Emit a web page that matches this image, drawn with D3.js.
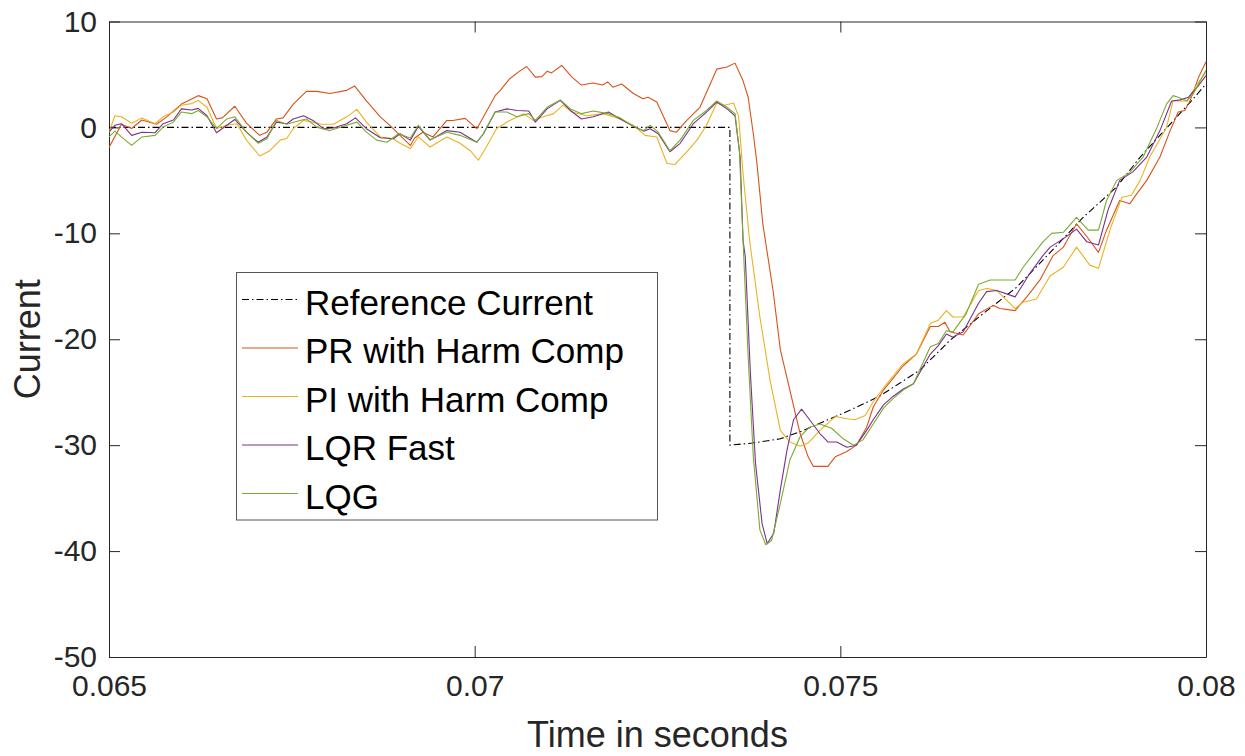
<!DOCTYPE html>
<html>
<head>
<meta charset="utf-8">
<script src="https://cdn.jsdelivr.net/npm/d3@7"></script>
<style>
  html, body { margin: 0; padding: 0; background: #fff; }
  svg { display: block; }
  text { font-family: "Liberation Sans", Arial, Helvetica, sans-serif; fill: #262626; }
</style>
</head>
<body>
<svg id="chart" width="1245" height="756"></svg>
<script>
// ---- data (time in milliseconds, current) ----
const seriesNames = ["Reference Current", "PR with Harm Comp", "PI with Harm Comp", "LQR Fast", "LQG"];
const seriesColors = ["#000000", "#D95319", "#EDB120", "#7E2F8E", "#77AC30"];

const xTickValues = [0.065, 0.07, 0.075, 0.08];
const xTickLabels = ["0.065", "0.07", "0.075", "0.08"];
const yTickValues = [-50, -40, -30, -20, -10, 0, 10];
const yTickLabels = ["-50", "-40", "-30", "-20", "-10", "0", "10"];

const refData = [
  [65.00, 0], [73.49, 0], [73.49, -30], [73.80, -29.8], [74.18, -29.4], [74.50, -28.6],
  [74.83, -27.6], [75.13, -26.7], [75.53, -25.4], [75.80, -24.2], [76.09, -22.9], [76.50, -20.1],
  [76.95, -17.6], [77.41, -15.1], [77.87, -11.8], [78.32, -8.5], [78.78, -5.6], [79.10, -2.8],
  [79.35, -0.9], [79.60, 1.0], [79.80, 2.5], [80.00, 4.1]
];

const prData = [
  [65.00, -1.9], [65.17, 0.3], [65.31, -0.1], [65.45, 0.7], [65.65, 0.3], [65.79, 1.0], [65.99, 2.2],
  [66.22, 3.0], [66.34, 2.7], [66.47, 0.8], [66.55, 0.9], [66.72, 2.0], [66.88, 0.4], [67.06, -0.75],
  [67.16, -0.45], [67.29, 0.8], [67.38, 0.9], [67.52, 2.2], [67.70, 3.4], [67.84, 3.4], [68.02, 3.2],
  [68.25, 3.5], [68.36, 3.9], [68.52, 2.5], [68.71, 1.0], [68.84, 0.2], [68.98, -0.75], [69.12, -1.7],
  [69.18, -1.0], [69.29, -0.45], [69.43, -0.9], [69.62, 0.66], [69.70, 0.66], [69.87, 0.85],
  [70.03, -0.12], [70.28, 3.0], [70.35, 3.5], [70.48, 4.6], [70.59, 5.2], [70.71, 5.75], [70.83, 4.75],
  [70.92, 4.8], [70.99, 5.3], [71.05, 5.15], [71.19, 5.85], [71.33, 4.75], [71.46, 4.0], [71.62, 4.2],
  [71.75, 4.0], [71.82, 4.3], [71.89, 3.8], [72.01, 4.1], [72.17, 3.2], [72.30, 2.7], [72.37, 2.85],
  [72.49, 2.4], [72.67, -0.3], [72.76, -0.45], [72.90, 0.66], [73.08, 1.9], [73.17, 3.3], [73.31, 5.5],
  [73.45, 5.7], [73.56, 6.07], [73.67, 4.4], [73.74, 2.85], [73.81, -0.6], [73.86, -3.4], [73.94, -9.1],
  [74.08, -15.4], [74.18, -21.0], [74.31, -24.8], [74.45, -28.9], [74.56, -31.1], [74.63, -32.0],
  [74.83, -32.0], [74.93, -31.1], [75.09, -30.6], [75.22, -30.0], [75.36, -28.3], [75.45, -26.4],
  [75.59, -24.8], [75.86, -22.5], [76.04, -21.4], [76.23, -18.8], [76.34, -18.8], [76.43, -18.4],
  [76.50, -19.3], [76.68, -19.6], [76.89, -17.6], [77.09, -16.8], [77.18, -17.1], [77.39, -17.3],
  [77.55, -16.0], [77.73, -14.4], [77.91, -12.1], [78.05, -11.3], [78.23, -9.1], [78.37, -10.3],
  [78.53, -11.8], [78.64, -9.7], [78.82, -6.9], [78.96, -7.2], [79.05, -6.3], [79.19, -5.0],
  [79.37, -2.8], [79.51, -0.3], [79.62, 1.45], [79.71, 1.6], [79.78, 2.5], [79.90, 4.75], [80.00, 6.2]
];

const piData = [
  [65.00, -0.5], [65.08, 1.1], [65.17, 1.0], [65.31, 0.4], [65.45, 0.9], [65.63, 0.35], [65.74, 1.0],
  [65.88, 1.45], [65.99, 2.1], [66.13, 2.25], [66.22, 2.55], [66.34, 1.9], [66.47, -0.1], [66.61, 0.2],
  [66.75, 0.35], [66.88, -1.2], [67.06, -2.7], [67.20, -2.2], [67.34, -1.2], [67.43, -1.05], [67.52, -0.1],
  [67.66, 0.66], [67.79, 0.5], [67.89, 0.3], [68.07, 0.3], [68.25, 1.0], [68.39, 1.7], [68.52, 0.5],
  [68.71, -0.9], [68.88, -1.05], [68.98, -1.5], [69.12, -2.0], [69.23, -0.9], [69.39, -1.85],
  [69.62, -0.9], [69.80, -1.5], [69.94, -2.2], [70.05, -3.1], [70.16, -1.85], [70.30, -0.1], [70.48, 0.66],
  [70.67, 1.3], [70.80, 0.66], [70.94, 1.0], [71.08, 1.3], [71.21, 2.1], [71.33, 1.45], [71.53, 1.1],
  [71.76, 1.3], [71.99, 0.8], [72.17, 0.2], [72.33, -0.75], [72.49, -0.9], [72.63, -3.4], [72.74, -3.5],
  [72.90, -2.3], [73.04, -1.2], [73.17, 0.2], [73.31, 2.3], [73.42, 2.1], [73.54, 2.3], [73.61, 1.0],
  [73.67, -4.4], [73.76, -10.7], [73.90, -17.9], [74.04, -23.9], [74.18, -28.6], [74.31, -29.7],
  [74.45, -30.1], [74.56, -29.8], [74.72, -28.6], [74.93, -27.3], [75.09, -27.5], [75.20, -27.6],
  [75.34, -27.2], [75.45, -25.9], [75.59, -24.6], [75.72, -23.5], [75.86, -22.3], [76.04, -21.4],
  [76.23, -18.5], [76.34, -18.2], [76.45, -17.3], [76.54, -17.9], [76.68, -17.9], [76.89, -15.4],
  [77.00, -15.2], [77.14, -15.4], [77.39, -17.1], [77.50, -16.5], [77.68, -16.2], [77.87, -14.0],
  [78.05, -13.2], [78.23, -11.3], [78.41, -13.0], [78.53, -13.3], [78.69, -9.6], [78.85, -6.6],
  [78.98, -6.4], [79.10, -5.0], [79.23, -2.8], [79.46, 0.0], [79.55, 2.5], [79.74, 2.5], [79.88, 4.1],
  [80.00, 5.2]
];

const lqrData = [
  [65.00, -0.45], [65.08, 0.2], [65.17, 0.35], [65.31, -0.75], [65.45, -0.45], [65.63, -0.5], [65.74, 0.35],
  [65.88, 0.7], [65.99, 1.75], [66.13, 1.65], [66.22, 1.8], [66.34, 1.1], [66.47, -0.5], [66.61, 0.2],
  [66.72, 0.75], [66.88, -0.45], [67.04, -1.4], [67.16, -0.9], [67.29, 0.5], [67.43, 0.35], [67.52, 0.8],
  [67.66, 1.1], [67.79, 0.66], [67.93, -0.12], [68.07, -0.06], [68.25, 0.35], [68.37, 0.9], [68.52, -0.12],
  [68.71, -0.97], [68.89, -1.07], [68.98, -0.6], [69.12, -1.2], [69.23, 0.1], [69.39, -1.2], [69.62, -0.3],
  [69.80, -0.45], [70.03, -1.4], [70.12, -0.6], [70.28, 1.45], [70.44, 1.75], [70.58, 1.6], [70.74, 1.55],
  [70.83, 0.5], [70.99, 1.75], [71.17, 2.55], [71.31, 1.6], [71.46, 0.8], [71.62, 1.0], [71.83, 1.45],
  [71.99, 0.8], [72.17, 0.1], [72.31, -0.35], [72.40, -0.12], [72.51, -0.6], [72.67, -2.3], [72.81, -1.5],
  [72.99, 0.35], [73.17, 1.45], [73.31, 2.4], [73.45, 1.75], [73.56, 1.1], [73.63, -2.8], [73.67, -10.7],
  [73.70, -12.2], [73.77, -23.2], [73.84, -31.7], [73.93, -37.4], [74.00, -39.3], [74.09, -38.3],
  [74.18, -34.2], [74.27, -30.5], [74.36, -27.6], [74.47, -26.6], [74.58, -27.6], [74.72, -28.9],
  [74.83, -29.7], [74.95, -29.7], [75.09, -30.2], [75.22, -30.0], [75.36, -28.6], [75.45, -27.6],
  [75.59, -26.2], [75.72, -25.4], [75.86, -24.7], [76.00, -24.2], [76.23, -21.4], [76.34, -20.6],
  [76.45, -19.5], [76.54, -19.8], [76.68, -19.3], [76.89, -16.6], [77.00, -15.5], [77.14, -15.4],
  [77.39, -16.0], [77.59, -13.8], [77.77, -12.1], [77.87, -11.3], [78.05, -10.5], [78.23, -9.6],
  [78.37, -10.8], [78.53, -11.1], [78.66, -7.8], [78.82, -5.0], [79.00, -4.2], [79.19, -2.8],
  [79.37, -0.3], [79.53, 2.5], [79.65, 2.6], [79.76, 2.85], [79.88, 3.8], [80.00, 4.9]
];

const lqgData = [
  [65.00, -0.9], [65.08, -0.35], [65.17, -0.9], [65.31, -1.7], [65.45, -0.9], [65.63, -0.75], [65.74, 0.03],
  [65.88, 0.5], [65.99, 1.45], [66.13, 1.3], [66.22, 1.6], [66.34, 1.0], [66.47, -0.12], [66.61, 0.8],
  [66.72, 1.0], [66.88, -0.45], [67.04, -1.5], [67.16, -1.07], [67.29, 0.66], [67.43, 0.3], [67.61, 0.66],
  [67.70, 0.8], [67.84, 0.03], [68.02, -0.3], [68.25, 0.2], [68.39, 0.5], [68.52, -0.45], [68.66, -1.2],
  [68.80, -1.4], [68.96, -0.6], [69.12, -1.0], [69.23, 0.2], [69.39, -1.17], [69.62, -0.45], [69.80, -0.75],
  [70.03, -1.4], [70.12, -0.6], [70.28, 1.45], [70.44, 1.45], [70.58, 1.0], [70.74, 1.3], [70.83, 0.66],
  [70.99, 1.9], [71.17, 2.6], [71.31, 1.75], [71.46, 1.3], [71.62, 1.55], [71.83, 1.3], [71.99, 0.9],
  [72.17, 0.1], [72.31, -0.3], [72.40, 0.2], [72.51, -0.45], [72.67, -2.2], [72.81, -1.2], [72.99, 0.66],
  [73.17, 1.6], [73.31, 2.5], [73.45, 1.9], [73.56, 1.3], [73.62, -2.2], [73.67, -10.7], [73.74, -21.7],
  [73.81, -31.1], [73.90, -38.0], [73.98, -39.4], [74.06, -39.0], [74.18, -35.5], [74.31, -31.4],
  [74.45, -29.2], [74.58, -28.3], [74.72, -28.0], [74.88, -28.4], [75.04, -29.4], [75.18, -30.0],
  [75.31, -29.5], [75.45, -28.0], [75.59, -26.5], [75.72, -25.6], [75.86, -24.8], [76.00, -24.2],
  [76.23, -20.7], [76.34, -20.4], [76.45, -19.2], [76.54, -19.3], [76.72, -17.6], [76.89, -14.8],
  [77.05, -14.4], [77.39, -14.4], [77.50, -13.2], [77.77, -10.8], [77.89, -10.0], [78.05, -9.9],
  [78.23, -8.5], [78.39, -9.7], [78.53, -9.7], [78.64, -6.9], [78.78, -5.0], [78.95, -4.3], [79.14, -2.8],
  [79.33, 0.0], [79.46, 2.2], [79.55, 3.0], [79.62, 2.85], [79.74, 2.5], [79.83, 3.2], [79.92, 4.4],
  [80.00, 5.4]
];

const allSeries = [refData, prData, piData, lqrData, lqgData];
const MS = 1e-3;

// ---- layout ----
const svg = d3.select("#chart");
const plot = { left: 109, right: 1206, top: 21.5, bottom: 657 };

const x = d3.scaleLinear().domain([0.065, 0.08]).range([plot.left, plot.right]);
const y = d3.scaleLinear().domain([-50, 10]).range([plot.bottom, plot.top]);

svg.append("defs").append("clipPath").attr("id", "clip")
  .append("rect").attr("x", plot.left).attr("y", plot.top)
  .attr("width", plot.right - plot.left).attr("height", plot.bottom - plot.top);

const axisColor = "#262626";
const tickLen = 11;

// axes with inward ticks
const gBottom = svg.append("g").attr("transform", `translate(0,${plot.bottom})`)
  .call(d3.axisBottom(x).tickValues(xTickValues).tickSizeInner(-tickLen).tickSizeOuter(0)
    .tickPadding(22).tickFormat((d, i) => xTickLabels[i]));
const gTop = svg.append("g").attr("transform", `translate(0,${plot.top})`)
  .call(d3.axisTop(x).tickValues(xTickValues).tickSizeInner(-tickLen).tickSizeOuter(0).tickFormat(""));
const gLeft = svg.append("g").attr("transform", `translate(${plot.left},0)`)
  .call(d3.axisLeft(y).tickValues(yTickValues).tickSizeInner(-tickLen).tickSizeOuter(0)
    .tickPadding(12).tickFormat((d, i) => yTickLabels[i]));
const gRight = svg.append("g").attr("transform", `translate(${plot.right},0)`)
  .call(d3.axisRight(y).tickValues(yTickValues).tickSizeInner(-tickLen).tickSizeOuter(0).tickFormat(""));

[gBottom, gTop, gLeft, gRight].forEach(g => {
  g.select(".domain").attr("stroke", axisColor).attr("stroke-width", 1);
  g.selectAll(".tick line").attr("stroke", axisColor).attr("stroke-width", 1);
  g.selectAll(".tick text").attr("fill", axisColor).style("font-size", "30px")
    .style("font-family", '"Liberation Sans", Arial, sans-serif');
});
gBottom.selectAll(".tick text").attr("dy", "0.55em");

// axis titles
svg.append("text").attr("x", (plot.left + plot.right) / 2).attr("y", 747)
  .attr("text-anchor", "middle").style("font-size", "36px").text("Time in seconds");
svg.append("text").attr("transform", `translate(40,${(plot.top + plot.bottom) / 2}) rotate(-90)`)
  .attr("text-anchor", "middle").style("font-size", "36px").text("Current");

// lines
const line = d3.line().x(d => x(d[0] * MS)).y(d => y(d[1]));
const gLines = svg.append("g").attr("clip-path", "url(#clip)");
allSeries.forEach((data, i) => {
  const p = gLines.append("path").datum(data)
    .attr("fill", "none").attr("stroke", seriesColors[i])
    .attr("stroke-width", 1.1).attr("stroke-linejoin", "round").attr("d", line);
  if (i === 0) p.attr("stroke-dasharray", "7,3,1.5,3");
});

// legend
const leg = { x: 236.5, y: 272.5, w: 421, h: 247.5 };
const gLeg = svg.append("g");
gLeg.append("rect").attr("x", leg.x).attr("y", leg.y).attr("width", leg.w).attr("height", leg.h)
  .attr("fill", "#fff").attr("stroke", "#555").attr("stroke-width", 1);
seriesNames.forEach((name, i) => {
  const cy = 299.5 + i * 48.5;
  const l = gLeg.append("line").attr("x1", 242).attr("x2", 298).attr("y1", cy).attr("y2", cy)
    .attr("stroke", seriesColors[i]).attr("stroke-width", 1.1);
  if (i === 0) l.attr("stroke-dasharray", "7,3,1.5,3");
  gLeg.append("text").attr("x", 305).attr("y", cy + 15).style("font-size", "35px")
    .attr("fill", "#000").style("fill", "#000").text(name);
});
</script>
</body>
</html>
